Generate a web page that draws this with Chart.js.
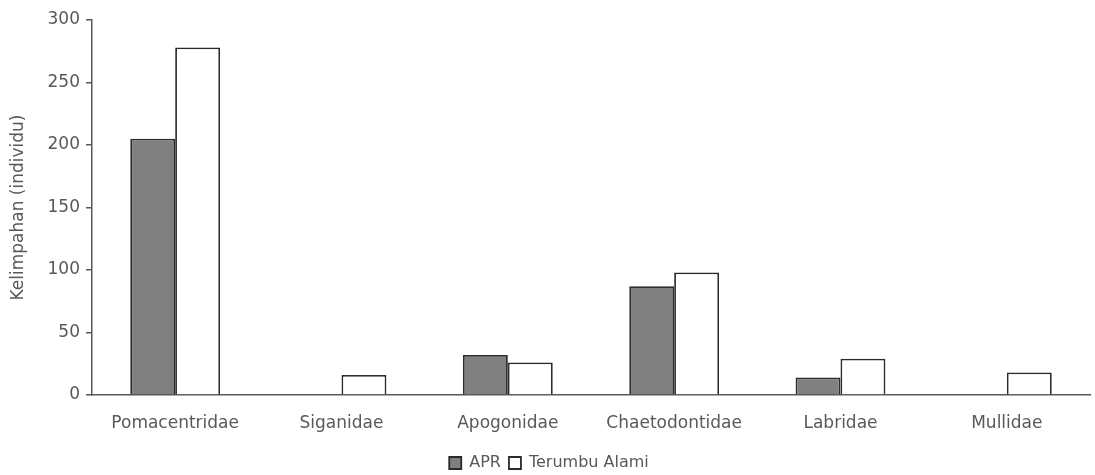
<!DOCTYPE html>
<html>
<head>
<meta charset="utf-8">
<script src="https://cdn.jsdelivr.net/npm/chart.js@4"></script>
<style>
  html, body { margin: 0; padding: 0; background: #fff; }
  #wrap { width: 1095px; height: 475px; }
</style>
</head>
<body>
<div id="wrap"><canvas id="myChart"></canvas></div>
<script>
  var families = ['Pomacentridae', 'Siganidae', 'Apogonidae', 'Chaetodontidae', 'Labridae', 'Mullidae'];
  var apr = [205, 0, 32, 87, 14, 0];
  var terumbuAlami = [278, 16, 26, 98, 29, 18];
  var yTicks = [0, 50, 100, 150, 200, 250, 300];

  var textColor = '#595959';
  var fontFamily = '"DejaVu Sans", sans-serif';

  var data = {
    labels: families,
    datasets: [{
      label: 'APR',
      data: apr,
      backgroundColor: '#808080',
      borderColor: '#2b2b2b',
      borderWidth: 1.8,
      borderSkipped: 'bottom'
    }, {
      label: 'Terumbu Alami',
      data: terumbuAlami,
      backgroundColor: '#ffffff',
      borderColor: '#2b2b2b',
      borderWidth: 1.8,
      borderSkipped: 'bottom'
    }]
  };

  var config = {
    type: 'bar',
    data: data,
    options: {
      responsive: false,
      animation: false,
      devicePixelRatio: 1,
      layout: { padding: { top: 20, right: 5, bottom: -6, left: 8 } },
      datasets: { bar: { categoryPercentage: 0.54, barPercentage: 1.0 } },
      plugins: {
        tooltip: { enabled: false },
        legend: {
          position: 'bottom',
          labels: {
            color: textColor,
            font: { family: fontFamily, size: 16 },
            boxWidth: 12,
            boxHeight: 12,
            padding: 8,
            useBorderRadius: false
          }
        }
      },
      scales: {
        x: {
          grid: { display: false, drawTicks: false },
          border: { display: true, color: '#595959', width: 1.5 },
          ticks: { color: textColor, font: { family: fontFamily, size: 17 }, padding: 18, maxRotation: 0 },
          afterFit: function (scale) { scale.height = 52; }
        },
        y: {
          min: 0,
          max: 300,
          afterBuildTicks: function (scale) {
            scale.ticks = yTicks.map(function (v) { return { value: v }; });
          },
          grid: { drawOnChartArea: false, drawTicks: true, tickLength: 6, color: '#595959', lineWidth: 1.5 },
          border: { display: true, color: '#595959', width: 1.5 },
          ticks: { color: textColor, font: { family: fontFamily, size: 17 }, padding: 6 },
          title: {
            display: true,
            text: 'Kelimpahan (individu)',
            color: textColor,
            font: { family: fontFamily, size: 17 },
            padding: { top: 0, bottom: 4 }
          },
          afterFit: function (scale) { scale.width = 84; }
        }
      }
    }
  };

  var canvas = document.getElementById('myChart');
  canvas.width = 1095;
  canvas.height = 475;
  var myChart = new Chart(canvas, config);
</script>
</body>
</html>
